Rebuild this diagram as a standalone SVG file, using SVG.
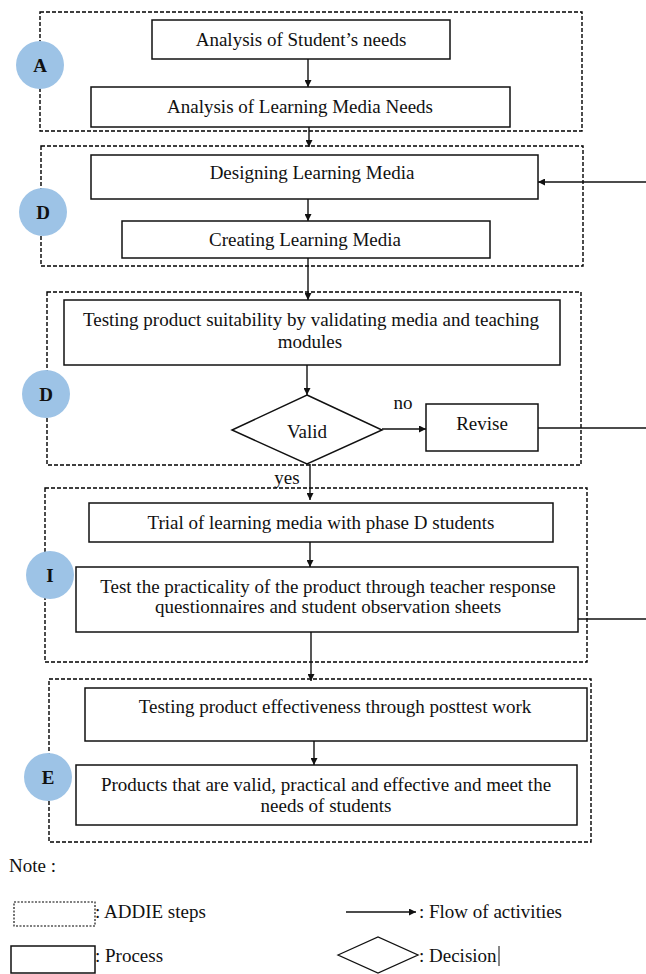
<svg xmlns="http://www.w3.org/2000/svg" width="646" height="974" viewBox="0 0 646 974">
<style>
text{font-family:"Liberation Serif","Times New Roman",serif;font-size:19px;fill:#111;text-anchor:middle}
.step{fill:none;stroke:#000;stroke-width:1.4;stroke-dasharray:4 2}
.proc{fill:#fff;stroke:#111;stroke-width:1.5}
.circ{fill:#9dc3e6}
.lbl{font-weight:bold;font-size:19px}
.c{fill:none;stroke:#111;stroke-width:1.4}
.ca{fill:none;stroke:#111;stroke-width:1.4;marker-end:url(#ah)}
.l{text-anchor:start}
</style>
<defs>
<marker id="ah" viewBox="0 0 10 10" refX="10" refY="5" markerWidth="7" markerHeight="7" markerUnits="userSpaceOnUse" orient="auto">
<path d="M0,0 L10,5 L0,10 z" fill="#111"/>
</marker>
</defs>
<rect width="646" height="974" fill="#fff"/>

<g id="steps">
<rect id="stepA" class="step" x="40" y="12" width="542" height="119"/>
<rect id="stepD1" class="step" x="41" y="146" width="542" height="120"/>
<rect id="stepD2" class="step" x="47" y="292" width="534" height="173"/>
<rect id="stepI" class="step" x="45" y="488" width="542" height="174"/>
<rect id="stepE" class="step" x="49" y="679" width="542" height="163"/>
</g>

<g id="connectors">
<line class="ca" x1="308" y1="59" x2="308" y2="87"/>
<line class="ca" x1="309" y1="127" x2="309" y2="147"/>
<line class="ca" x1="646" y1="182" x2="538" y2="182"/>
<line class="ca" x1="308" y1="199" x2="308" y2="221"/>
<line class="ca" x1="308" y1="258" x2="308" y2="300"/>
<line class="ca" x1="307" y1="365" x2="307" y2="395"/>
<line class="ca" x1="382" y1="429" x2="426" y2="429"/>
<line class="c" x1="538" y1="428" x2="646" y2="428"/>
<line class="ca" x1="310" y1="464" x2="310" y2="500"/>
<line class="ca" x1="310" y1="542" x2="310" y2="567"/>
<line class="c" x1="578" y1="619" x2="646" y2="619"/>
<line class="ca" x1="311" y1="632" x2="311" y2="681"/>
<line class="ca" x1="314" y1="741" x2="314" y2="765"/>
</g>

<g id="n1"><rect class="proc" x="152" y="20" width="298" height="39"/><text x="301" y="46">Analysis of Student’s needs</text></g>
<g id="n2"><rect class="proc" x="91" y="87" width="419" height="40"/><text x="300" y="113">Analysis of Learning Media Needs</text></g>
<g id="n3"><rect class="proc" x="91" y="155" width="447" height="44"/><text x="312" y="179">Designing Learning Media</text></g>
<g id="n4"><rect class="proc" x="122" y="221" width="368" height="37"/><text x="305" y="246">Creating Learning Media</text></g>
<g id="n5"><rect class="proc" x="64" y="300" width="496" height="65"/><text x="311" y="326">Testing product suitability by validating media and teaching</text><text x="310" y="348">modules</text></g>
<g id="n6"><polygon class="proc" points="307,395 382,430 307,464 232,430"/><text x="307" y="438">Valid</text></g>
<g id="n7"><rect class="proc" x="426" y="404" width="112" height="47"/><text x="482" y="430">Revise</text></g>
<g id="n8"><rect class="proc" x="89" y="503" width="464" height="39"/><text x="321" y="529">Trial of learning media with phase D students</text></g>
<g id="n9"><rect class="proc" x="76" y="567" width="502" height="65"/><text x="328" y="593">Test the practicality of the product through teacher response</text><text x="328" y="613">questionnaires and student observation sheets</text></g>
<g id="n10"><rect class="proc" x="85" y="688" width="502" height="53"/><text x="335" y="713">Testing product effectiveness through posttest work</text></g>
<g id="n11"><rect class="proc" x="76" y="765" width="501" height="60"/><text x="326" y="791">Products that are valid, practical and effective and meet the</text><text x="326" y="812">needs of students</text></g>

<g id="edge-labels">
<text x="403" y="409">no</text>
<text x="287" y="484">yes</text>
</g>

<g id="badgeA"><circle class="circ" cx="40" cy="65" r="24"/><text class="lbl" x="40" y="72">A</text></g>
<g id="badgeD1"><circle class="circ" cx="43" cy="212" r="24"/><text class="lbl" x="43" y="219">D</text></g>
<g id="badgeD2"><circle class="circ" cx="46" cy="394" r="24"/><text class="lbl" x="46" y="401">D</text></g>
<g id="badgeI"><circle class="circ" cx="50" cy="575" r="24"/><text class="lbl" x="50" y="582">I</text></g>
<g id="badgeE"><circle class="circ" cx="48" cy="777" r="24"/><text class="lbl" x="48" y="784">E</text></g>

<g id="legend">
<text class="l" x="9" y="872">Note :</text>
<rect x="14" y="902" width="81" height="24" fill="none" stroke="#000" stroke-width="1.1" stroke-dasharray="2 1.5"/>
<text class="l" x="95" y="918">: ADDIE steps</text>
<line x1="346" y1="912" x2="416" y2="912" stroke="#111" stroke-width="1.4" marker-end="url(#ah)"/>
<text class="l" x="419" y="918">: Flow of activities</text>
<rect x="11" y="946" width="84" height="27" fill="none" stroke="#111" stroke-width="1.5"/>
<text class="l" x="95" y="962">: Process</text>
<polygon points="338,955 378,937 418,955 378,973" fill="none" stroke="#111" stroke-width="1.3"/>
<text class="l" x="419" y="962">: Decision</text>
<line x1="499" y1="946" x2="499" y2="966" stroke="#111" stroke-width="1"/>
</g>
</svg>
